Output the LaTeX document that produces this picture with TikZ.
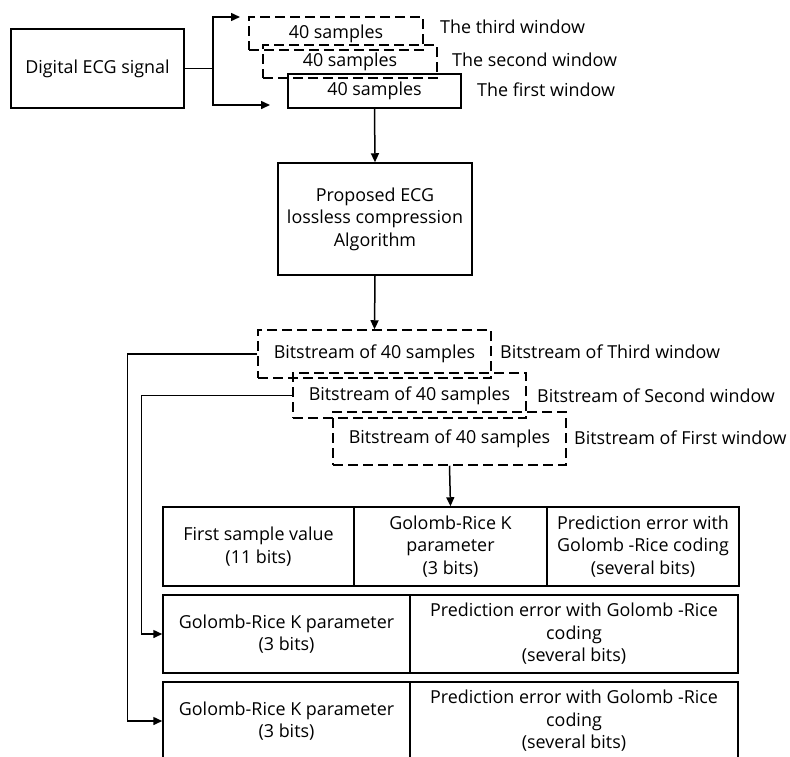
\documentclass[tikz,border=0pt]{standalone}
\usepackage{fontspec}
\setmainfont{Open Sans}
\usetikzlibrary{arrows.meta}
\newcommand{\txtfont}{\fontsize{17.9}{22.5}\selectfont}
\begin{document}
\begin{tikzpicture}[x=1pt,y=-1pt,
  box/.style={draw, line width=1.5pt, inner sep=0pt, align=center, font=\txtfont},
  dbox/.style={box, dash pattern=on 10pt off 5pt},
  lbl/.style={anchor=west, inner sep=0pt, font=\txtfont},
  arr/.style={line width=1.5pt, -{Triangle[length=9pt,width=8pt]}},
  ln/.style={line width=1.5pt}]
\useasboundingbox (0,0) rectangle (790,756);
% input
\node[box, minimum width=173pt, minimum height=79pt] (ecg) at (97.5,68.5) {Digital ECG signal};
% windows
\node[dbox, minimum width=174pt, minimum height=33pt] (w3) at (336,33.5) {40 samples};
\node[dbox, minimum width=174pt, minimum height=33pt] (w2) at (350,61.5) {40 samples};
\node[box, minimum width=173pt, minimum height=34pt] (w1) at (374.5,91) {40 samples};
\node[lbl] (lw3) at (440,27) {The third window};
\node[lbl] (lw2) at (452,60) {The second window};
\node[lbl] (lw1) at (477,90) {The first window};
\coordinate (j) at (213,68.5);
\coordinate (t3) at (240,17);
\coordinate (t1) at (270,105);
\draw[ln] (ecg.east) -- (j);
\draw[arr] (j) |- (t3);
\draw[arr] (j) |- (t1);
% algorithm
\node[box, minimum width=194pt, minimum height=112pt] (prop) at (375,219) {Proposed ECG\\lossless compression\\Algorithm};
\draw[arr] (w1.south) -- (prop.north);
% bitstreams
\node[dbox, minimum width=233pt, minimum height=48pt] (b3) at (374.5,354) {Bitstream of 40 samples};
\node[dbox, minimum width=233pt, minimum height=45pt] (b2) at (409.5,395.5) {Bitstream of 40 samples};
\node[dbox, minimum width=233pt, minimum height=53pt] (b1) at (449.5,438.5) {Bitstream of 40 samples};
\node[lbl] (lb3) at (500,352) {Bitstream of Third window};
\node[lbl] (lb2) at (537,396) {Bitstream of Second window};
\node[lbl] (lb1) at (574,438) {Bitstream of First window};
\draw[arr] (prop.south) -- (b3.north);
% table
\node[box, minimum width=191pt, minimum height=79pt] (r1a) at (258.5,546.5) {First sample value\\(11 bits)};
\node[box, minimum width=193pt, minimum height=79pt] (r1b) at (450.5,546.5) {Golomb-Rice K\\parameter\\(3 bits)};
\node[box, minimum width=192pt, minimum height=79pt] (r1c) at (643,546.5) {Prediction error with\\Golomb -Rice coding\\(several bits)};
\node[box, minimum width=247pt, minimum height=78pt] (r2a) at (286.5,634) {Golomb-Rice K parameter\\(3 bits)};
\node[box, minimum width=328pt, minimum height=78pt] (r2b) at (574,634) {Prediction error with Golomb -Rice\\coding\\(several bits)};
\node[box, minimum width=247pt, minimum height=78pt] (r3a) at (286.5,721) {Golomb-Rice K parameter\\(3 bits)};
\node[box, minimum width=328pt, minimum height=78pt] (r3b) at (574,721) {Prediction error with Golomb -Rice\\coding\\(several bits)};
\draw[arr] (b1.south) -- (r1b.north);
\draw[arr] (b3.west) -- ++(-130,0) |- (r3a.west);
\draw[arr] (b2.west) -- ++(-151,0) |- (r2a.west);
\end{tikzpicture}
\end{document}
